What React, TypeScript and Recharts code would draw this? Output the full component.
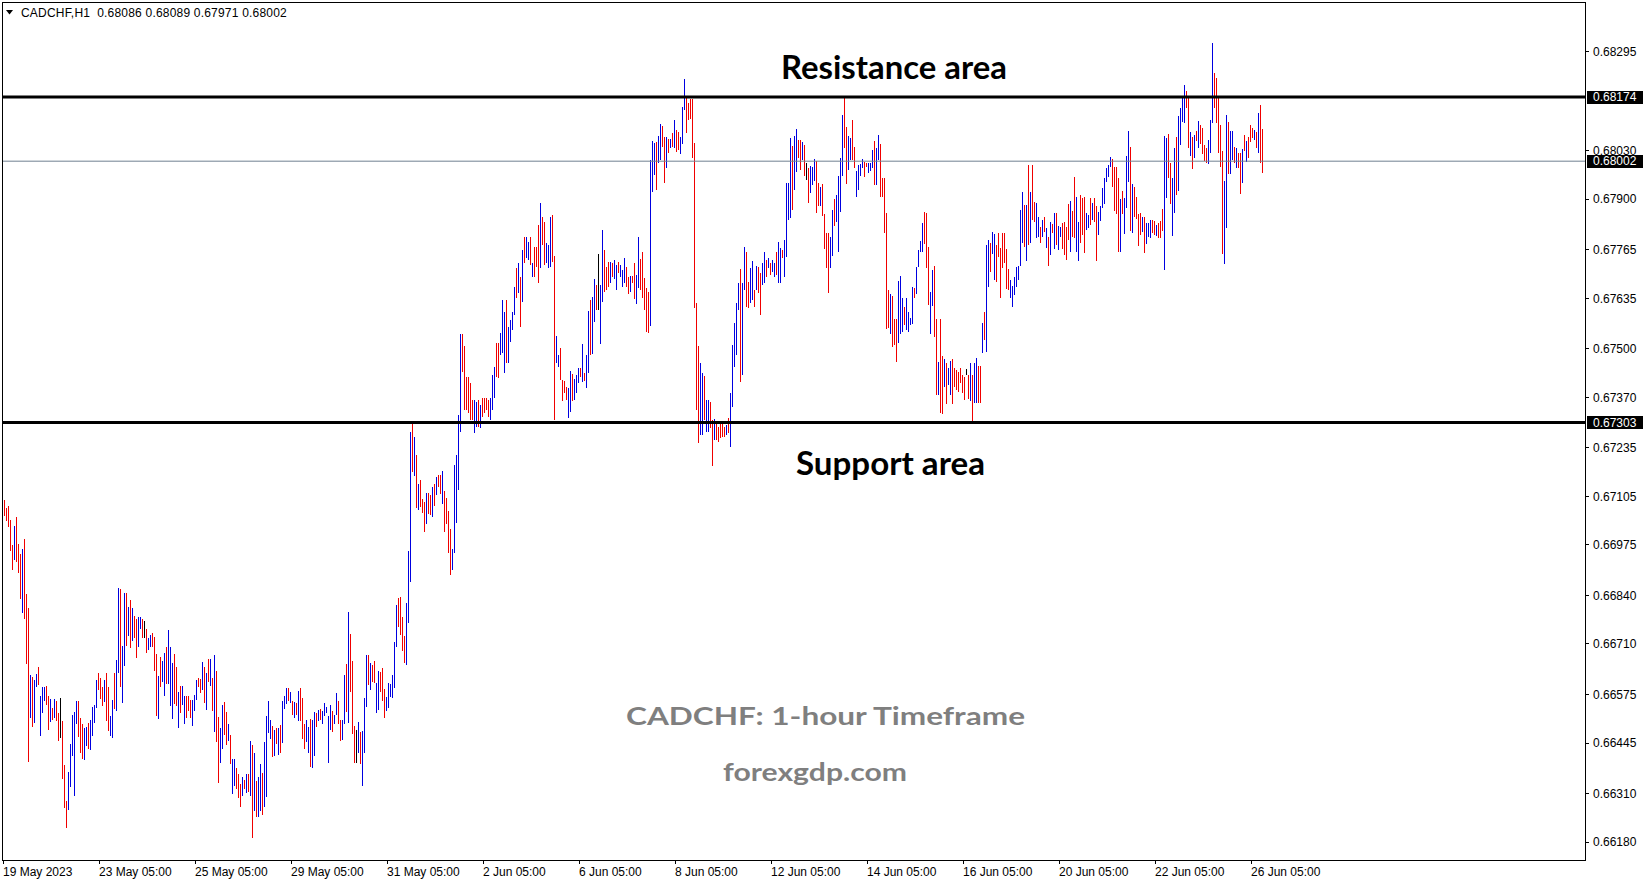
import React from 'react';
import { ComposedChart, Bar, XAxis, YAxis, ReferenceLine } from 'recharts';

// CADCHF H1 bars, 19 May 2023 05:00 -> 26 Jun 2023 10:00
// prices are in points (1 point = 0.00001)
const HIGHS = [
  67082, 67095, 67073, 67079, 67041, 66975, 67025, 67050, 66977, 66952,
  66964, 66991, 66843, 66806, 66627, 66622, 66613, 66629, 66649, 66570,
  66594, 66594, 66597, 66570, 66562, 66540, 66562, 66558, 66526, 66565,
  66504, 66386, 66290, 66368, 66442, 66520, 66528, 66557, 66557, 66512,
  66497, 66486, 66487, 66499, 66506, 66542, 66546, 66613, 66633, 66619,
  66594, 66613, 66633, 66594, 66517, 66560, 66633, 66667, 66860, 66857,
  66705, 66847, 66847, 66809, 66827, 66807, 66785, 66777, 66783, 66783,
  66778, 66772, 66751, 66725, 66734, 66740, 66729, 66682, 66625, 66676,
  66665, 66686, 66701, 66747, 66702, 66660, 66683, 66649, 66582, 66598,
  66598, 66571, 66571, 66571, 66560, 66560, 66573, 66613, 66619, 66615,
  66662, 66649, 66633, 66671, 66669, 66618, 66680, 66638, 66515, 66486,
  66546, 66555, 66527, 66497, 66466, 66402, 66402, 66379, 66362, 66335,
  66353, 66347, 66363, 66363, 66451, 66439, 66419, 66344, 66354, 66388,
  66365, 66448, 66518, 66557, 66506, 66490, 66479, 66486, 66484, 66493,
  66557, 66570, 66591, 66591, 66582, 66557, 66555, 66551, 66585, 66591,
  66566, 66497, 66506, 66488, 66508, 66506, 66528, 66526, 66533, 66537,
  66530, 66552, 66542, 66518, 66546, 66530, 66521, 66579, 66558, 66506,
  66506, 66627, 66656, 66796, 66736, 66664, 66490, 66479, 66502, 66475,
  66478, 66566, 66680, 66680, 66660, 66653, 66664, 66606, 66637, 66634,
  66646, 66589, 66569, 66606, 66604, 66628, 66716, 66814, 66832, 66836,
  66783, 66732, 66820, 66959, 67278, 67302, 67264, 67215, 67138, 67149,
  67098, 67090, 67114, 67114, 67109, 67130, 67138, 67156, 67162, 67162,
  67172, 67119, 67101, 67065, 67018, 66964, 67189, 67216, 67323, 67539,
  67539, 67507, 67424, 67424, 67408, 67363, 67363, 67358, 67363, 67350,
  67368, 67368, 67368, 67363, 67368, 67430, 67451, 67515, 67515, 67542,
  67630, 67598, 67630, 67558, 67577, 67598, 67665, 67716, 67729, 67691,
  67764, 67799, 67799, 67786, 67799, 67729, 67772, 67772, 67831, 67890,
  67852, 67839, 67783, 67778, 67852, 67858, 67748, 67534, 67483, 67501,
  67416, 67413, 67397, 67395, 67440, 67432, 67419, 67430, 67449, 67449,
  67512, 67435, 67483, 67600, 67630, 67638, 67687, 67671, 67753, 67671,
  67818, 67764, 67718, 67732, 67732, 67729, 67737, 67724, 67732, 67724,
  67710, 67743, 67718, 67691, 67694, 67694, 67729, 67697, 67799, 67740,
  67759, 67689, 67663, 67652, 68005, 68055, 68050, 68053, 68069, 68101,
  68096, 68066, 68066, 68061, 68061, 68077, 68112, 68085, 68080, 68066,
  68146, 68222, 68170, 68157, 68168, 68168, 68050, 67622, 67507, 67462,
  67435, 67427, 67363, 67363, 67358, 67309, 67312, 67301, 67290, 67301,
  67298, 67290, 67296, 67315, 67381, 67509, 67569, 67622, 67676, 67713,
  67676, 67772, 67759, 67679, 67716, 67734, 67657, 67721, 67718, 67702,
  67729, 67759, 67737, 67743, 67729, 67737, 67729, 67759, 67786, 67770,
  67764, 67791, 67943, 67943, 68063, 68043, 68069, 68088, 68058, 68058,
  68053, 68045, 67997, 67983, 67989, 67986, 68008, 68002, 67943, 67933,
  67941, 67860, 67810, 67810, 67799, 67871, 67901, 67911, 67962, 68010,
  68126, 68173, 68093, 68069, 68064, 68112, 68039, 67976, 67992, 67994,
  68008, 67999, 67997, 67997, 67997, 68032, 68056, 68037, 68072, 68048,
  67957, 67957, 67863, 67657, 67646, 67641, 67579, 67579, 67681, 67694,
  67636, 67611, 67636, 67598, 67582, 67665, 67663, 67718, 67764, 67788,
  67836, 67866, 67863, 67772, 67652, 67710, 67721, 67579, 67464, 67579,
  67480, 67472, 67462, 67449, 67467, 67472, 67449, 67443, 67438, 67449,
  67430, 67424, 67446, 67430, 67462, 67430, 67462, 67475, 67454, 67454,
  67569, 67598, 67778, 67791, 67783, 67812, 67807, 67778, 67810, 67770,
  67810, 67810, 67767, 67713, 67684, 67668, 67691, 67718, 67721, 67871,
  67919, 67885, 67885, 67992, 67919, 67992, 67893, 67890, 67852, 67826,
  67844, 67852, 67823, 67799, 67839, 67834, 67863, 67863, 67828, 67826,
  67836, 67839, 67826, 67887, 67895, 67869, 67960, 67906, 67839, 67911,
  67903, 67906, 67863, 67858, 67903, 67890, 67903, 67882, 67866, 67882,
  67930, 67957, 67983, 67992, 68013, 68008, 67986, 67986, 67957, 67901,
  67922, 67903, 68016, 68083, 68040, 67941, 67933, 67906, 67860, 67863,
  67852, 67852, 67836, 67836, 67844, 67844, 67842, 67831, 67836, 67842,
  67874, 68069, 68064, 68075, 67997, 67957, 68037, 68066, 68123, 68144,
  68171, 68206, 68190, 68171, 68080, 68066, 68072, 68083, 68109, 68099,
  68091, 68045, 68037, 68058, 68112, 68318, 68238, 68225, 68174, 68099,
  68029, 67949, 68126, 68107, 68083, 68083, 68040, 68037, 68024, 68024,
  68034, 68072, 68056, 68066, 68099, 68091, 68085, 68080, 68131, 68152,
  68089,
];

const LOWS = [
  67024, 67052, 67040, 67024, 66959, 66908, 66934, 66930, 66899, 66831,
  66793, 66778, 66656, 66395, 66513, 66488, 66499, 66595, 66601, 66463,
  66524, 66558, 66546, 66479, 66502, 66506, 66511, 66504, 66451, 66459,
  66350, 66272, 66218, 66267, 66326, 66411, 66304, 66495, 66462, 66417,
  66402, 66399, 66437, 66428, 66426, 66464, 66499, 66539, 66588, 66562,
  66545, 66554, 66504, 66478, 66463, 66459, 66536, 66530, 66633, 66595,
  66551, 66652, 66704, 66731, 66698, 66718, 66726, 66673, 66702, 66751,
  66726, 66726, 66685, 66693, 66702, 66702, 66638, 66518, 66509, 66595,
  66609, 66570, 66603, 66602, 66545, 66509, 66549, 66545, 66486, 66526,
  66546, 66495, 66511, 66531, 66511, 66491, 66531, 66560, 66594, 66578,
  66588, 66553, 66533, 66607, 66598, 66530, 66475, 66448, 66339, 66392,
  66428, 66466, 66439, 66451, 66390, 66309, 66330, 66321, 66299, 66274,
  66304, 66323, 66310, 66314, 66304, 66190, 66263, 66246, 66246, 66263,
  66252, 66274, 66301, 66473, 66455, 66408, 66411, 66442, 66412, 66417,
  66445, 66537, 66549, 66558, 66551, 66521, 66513, 66519, 66504, 66504,
  66455, 66429, 66448, 66417, 66381, 66377, 66411, 66488, 66503, 66506,
  66495, 66518, 66524, 66392, 66481, 66475, 66497, 66519, 66497, 66451,
  66454, 66495, 66528, 66499, 66582, 66470, 66392, 66392, 66419, 66390,
  66330, 66417, 66542, 66600, 66588, 66609, 66606, 66524, 66533, 66582,
  66557, 66512, 66531, 66540, 66567, 66566, 66591, 66702, 66756, 66734,
  66692, 66658, 66655, 66765, 66875, 67171, 67159, 67073, 67068, 67076,
  67060, 67010, 67031, 67057, 67055, 67049, 67079, 67109, 67130, 67111,
  67084, 67010, 67031, 66953, 66895, 66908, 66953, 67034, 67122, 67277,
  67438, 67336, 67336, 67328, 67309, 67309, 67274, 67290, 67290, 67288,
  67317, 67328, 67336, 67317, 67309, 67336, 67368, 67424, 67422, 67483,
  67488, 67435, 67462, 67462, 67518, 67550, 67590, 67636, 67649, 67558,
  67625, 67729, 67743, 67737, 67724, 67691, 67691, 67718, 67676, 67716,
  67778, 67724, 67729, 67716, 67718, 67732, 67309, 67462, 67451, 67416,
  67360, 67381, 67363, 67315, 67331, 67360, 67363, 67381, 67408, 67424,
  67411, 67413, 67395, 67435, 67483, 67485, 67572, 67603, 67603, 67512,
  67625, 67652, 67657, 67665, 67676, 67691, 67686, 67657, 67702, 67691,
  67665, 67676, 67665, 67646, 67652, 67676, 67633, 67619, 67663, 67657,
  67636, 67603, 67545, 67542, 67561, 67920, 67965, 67925, 67997, 68005,
  68039, 67943, 67983, 68024, 68037, 68039, 68037, 68027, 68032, 68021,
  68047, 68139, 68077, 68112, 68115, 68011, 67608, 67336, 67248, 67269,
  67269, 67309, 67277, 67277, 67288, 67186, 67256, 67256, 67251, 67261,
  67264, 67264, 67269, 67274, 67237, 67344, 67451, 67483, 67603, 67411,
  67430, 67657, 67611, 67609, 67622, 67630, 67611, 67657, 67649, 67590,
  67671, 67676, 67691, 67716, 67697, 67705, 67691, 67697, 67676, 67676,
  67743, 67691, 67745, 67844, 67849, 67871, 67925, 67973, 68010, 67978,
  68005, 67962, 67951, 67890, 67917, 67938, 67949, 67863, 67882, 67882,
  67855, 67767, 67716, 67649, 67716, 67748, 67828, 67839, 67759, 67866,
  67962, 68037, 67941, 67978, 68005, 68005, 67983, 67906, 67925, 67962,
  67983, 67959, 67986, 67970, 67975, 67983, 67938, 67938, 68005, 67906,
  67906, 67810, 67553, 67555, 67539, 67504, 67510, 67464, 67515, 67539,
  67545, 67563, 67550, 67545, 67563, 67566, 67636, 67646, 67718, 67759,
  67759, 67780, 67716, 67617, 67539, 67614, 67531, 67376, 67376, 67328,
  67325, 67397, 67352, 67403, 67376, 67352, 67397, 67389, 67384, 67408,
  67381, 67363, 67430, 67365, 67360, 67301, 67355, 67355, 67355, 67355,
  67488, 67523, 67491, 67665, 67705, 67753, 67684, 67678, 67745, 67636,
  67716, 67729, 67660, 67657, 67636, 67611, 67644, 67665, 67684, 67721,
  67783, 67772, 67735, 67778, 67783, 67844, 67839, 67796, 67799, 67783,
  67799, 67812, 67770, 67721, 67751, 67810, 67767, 67778, 67764, 67799,
  67767, 67751, 67737, 67791, 67759, 67799, 67796, 67759, 67735, 67783,
  67804, 67756, 67818, 67823, 67831, 67844, 67839, 67735, 67804, 67842,
  67877, 67887, 67946, 67960, 67986, 67933, 67869, 67860, 67759, 67759,
  67860, 67807, 67877, 67946, 67815, 67810, 67852, 67847, 67775, 67804,
  67812, 67756, 67780, 67799, 67796, 67810, 67804, 67802, 67796, 67796,
  67815, 67710, 67903, 67957, 67887, 67802, 67863, 67911, 67922, 68045,
  68107, 68104, 68144, 68037, 68016, 67981, 68010, 68056, 68037, 68048,
  68021, 68002, 67997, 67994, 68024, 68104, 68144, 68104, 68024, 67986,
  67754, 67727, 67823, 67968, 67968, 68005, 67997, 67983, 67983, 67914,
  67943, 68029, 68000, 68010, 68053, 68064, 68058, 68037, 68024, 67997,
  67971,
];

// B = close above open, R = close below open, K = unchanged
const DIRS = (
  'BRRRRRBRRR' + 'BRRRBRBBRB' + 'BBRRBRBRRK' + 'RRRBBBBBRR' + 'RBBRBBBBRR' +
  'RBRRBBRBBR' + 'BBRBRBRRBB' + 'RKRBBRRRBR' + 'BBRBBBRRBR' + 'BBRRRBBBRR' +
  'BRBRBRBRRB' + 'BRRBRBBRRR' + 'BRBRBRBRBB' + 'RBBBBRBRBR' + 'BBBRBRBRBR' +
  'RRBBRBBRBR' + 'BBBBBRBBRR' + 'BBRBRRRKBR' + 'BBBRBRRBBR' + 'RRBBBBBBRR' +
  'RRBBBRBRBR' + 'RRBRRBRBRR' + 'BRRRRBBBBB' + 'RRRRRRBBRB' + 'RRRRBBBRRB' +
  'BBRBBBBRBR' + 'BRBBRBRRRB' + 'RRBBBRRBBR' + 'RRRBBRBBBR' + 'BRBBRBBRKB' +
  'BRRRBRBBRB' + 'BBRRBRRBBR' + 'RRRRBBBRBB' + 'RRBRBRBRRB' + 'BBRRRRRRRB' +
  'BRBBRRBRRR' + 'RRBRBBBBBR' + 'BBRRBBRBRR' + 'BBRBRBBRBB' + 'RBBBBRBBRR' +
  'BRKRBBBRRB' + 'RRRRBBRBBB' + 'BRRBBRRBBB' + 'BRRBBBRBBR' + 'RRRRBRRRBB' +
  'BRBBBBRBBB' + 'BRRRBBRRBR' + 'RBRBBRRRRR' + 'RRKRBRBBRR' + 'BRBBRBBRRR' +
  'RRRRBBBBBB' + 'BRBRBRRBBR' + 'BRBRBRBRBB' + 'RRRRBRRBBR' + 'RRBBRBRRBB' +
  'BBBBBRRRRB' + 'RBBBRBRRRR' + 'BRBBBRRBRR' + 'RBBRRBBRBB' + 'BBRRBRBRBR' +
  'RRRBBBRRRR' + 'RBBRBBRBRR' + 'BRBRRRBRBR' + 'R'
).split('');

const TIME_LABELS = [
  '19 May 2023', '23 May 05:00', '25 May 05:00', '29 May 05:00', '31 May 05:00',
  '2 Jun 05:00', '6 Jun 05:00', '8 Jun 05:00', '12 Jun 05:00', '14 Jun 05:00',
  '16 Jun 05:00', '20 Jun 05:00', '22 Jun 05:00', '26 Jun 05:00',
];
// bar index where each time label sits
const TIME_TICKS = [0, 48, 96, 144, 192, 240, 288, 336, 384, 432, 480, 528, 576, 624];

const PRICE_TICKS = [
  68295, 68030, 67900, 67765, 67635, 67500, 67370, 67235,
  67105, 66975, 66840, 66710, 66575, 66445, 66310, 66180,
];

const RESISTANCE = 68174;
const SUPPORT = 67303;
const LAST_PRICE = 68002;
const LAST_OHLC = ['0.68086', '0.68089', '0.67971', '0.68002'];

const COLORS: Record<string, string> = { B: '#0000e0', R: '#f00000', K: '#000000' };
const AXIS_FONT = '"Liberation Sans", Arial, sans-serif';
const NOTE_FONT = 'Lato, "Open Sans", sans-serif';

const bars = HIGHS.map((h, i) => ({ i, range: [LOWS[i], h], dir: DIRS[i] }));

const fmt = (v: number) => (v / 100000).toFixed(5);

// one pixel wide high-low stroke, snapped to the pixel grid
const HLBar = (props: any) => {
  const { x, y, width, height, payload } = props;
  if (x == null || y == null) return null;
  const col = Math.round(x + width / 2 - 0.5);
  const top = Math.round(y);
  const bottom = Math.max(top + 1, Math.round(y + height));
  return (
    <rect
      x={col}
      y={top}
      width={1}
      height={bottom - top}
      fill={COLORS[payload.dir] || '#000'}
      shapeRendering="crispEdges"
    />
  );
};

const TimeTick = (props: any) => {
  const { x, y, payload } = props;
  const idx = TIME_TICKS.indexOf(payload.value);
  const col = Math.round(x);
  return (
    <g>
      <rect x={col} y={y} width={1} height={4} fill="#000" shapeRendering="crispEdges" />
      <text x={col} y={y + 16} fontSize={12} fontFamily={AXIS_FONT} fill="#000">
        {TIME_LABELS[idx]}
      </text>
    </g>
  );
};

const PriceTick = (props: any) => {
  const { x, y, payload } = props;
  const row = Math.floor(y);
  return (
    <g>
      <rect x={x} y={row} width={4} height={1} fill="#000" shapeRendering="crispEdges" />
      <text x={x + 8} y={y} dy="0.35em" fontSize={12} fontFamily={AXIS_FONT} fill="#000">
        {fmt(payload.value)}
      </text>
    </g>
  );
};

const PriceTag = (props: any) => {
  const { viewBox, price } = props;
  if (!viewBox) return null;
  const x = viewBox.x + viewBox.width;
  const y = viewBox.y;
  return (
    <g>
      <rect x={x + 2} y={Math.round(y) - 6} width={56} height={13} fill="#000" />
      <text x={x + 8} y={y} dy="0.35em" fontSize={12} fontFamily={AXIS_FONT} fill="#fff">
        {fmt(price)}
      </text>
    </g>
  );
};

export default function App() {
  return (
    <div style={{ position: 'absolute', left: 0, top: 0, width: 1649, height: 884, background: '#fff' }}>
      <ComposedChart width={1649} height={884} data={bars} margin={{ top: 3, right: 0, bottom: 0, left: 2 }}>
        <XAxis
          dataKey="i"
          type="number"
          domain={[-0.65, 790.85]}
          allowDataOverflow
          ticks={TIME_TICKS}
          interval={0}
          height={24}
          tickSize={0}
          tickMargin={0}
          tickLine={false}
          axisLine={false}
          tick={<TimeTick />}
        />
        <YAxis
          orientation="right"
          type="number"
          domain={[66131.9, 68425.3]}
          allowDataOverflow
          ticks={PRICE_TICKS}
          interval={0}
          width={64}
          tickSize={0}
          tickMargin={0}
          tickLine={false}
          axisLine={false}
          tick={<PriceTick />}
        />
        <Bar dataKey="range" barSize={1} isAnimationActive={false} shape={HLBar} />
        <ReferenceLine y={LAST_PRICE} stroke="#708090" strokeWidth={1} label={<PriceTag price={LAST_PRICE} />} />
        <ReferenceLine y={RESISTANCE} stroke="#000" strokeWidth={3} label={<PriceTag price={RESISTANCE} />} />
        <ReferenceLine y={SUPPORT} stroke="#000" strokeWidth={3} label={<PriceTag price={SUPPORT} />} />
      </ComposedChart>

      <div
        style={{
          position: 'absolute',
          left: 2,
          top: 2,
          width: 1584,
          height: 859,
          boxSizing: 'border-box',
          border: '1px solid #000',
          pointerEvents: 'none',
        }}
      />

      <svg width={1649} height={884} style={{ position: 'absolute', left: 0, top: 0, pointerEvents: 'none' }}>
        <polygon points="6,10 13,10 9.5,14.5" fill="#000" />
        <text
          x={21}
          y={17}
          fontSize={12}
          fontFamily={AXIS_FONT}
          fill="#000"
          letterSpacing={0.2}
          style={{ whiteSpace: 'pre' }}
        >
          {'CADCHF,H1  ' + LAST_OHLC.join(' ')}
        </text>
        <text x={781} y={79} fontSize={32} fontWeight={700} fontFamily={NOTE_FONT} fill="#000" textLength={226} lengthAdjust="spacingAndGlyphs">
          Resistance area
        </text>
        <text x={796} y={475} fontSize={32} fontWeight={700} fontFamily={NOTE_FONT} fill="#000" textLength={189} lengthAdjust="spacingAndGlyphs">
          Support area
        </text>
        <text x={626} y={725} fontSize={25} fontWeight={700} fontFamily={NOTE_FONT} fill="#7f7f7f" textLength={399} lengthAdjust="spacingAndGlyphs">
          CADCHF: 1-hour Timeframe
        </text>
        <text x={723} y={781} fontSize={25} fontWeight={700} fontFamily={NOTE_FONT} fill="#7f7f7f" textLength={184} lengthAdjust="spacingAndGlyphs">
          forexgdp.com
        </text>
      </svg>
    </div>
  );
}
